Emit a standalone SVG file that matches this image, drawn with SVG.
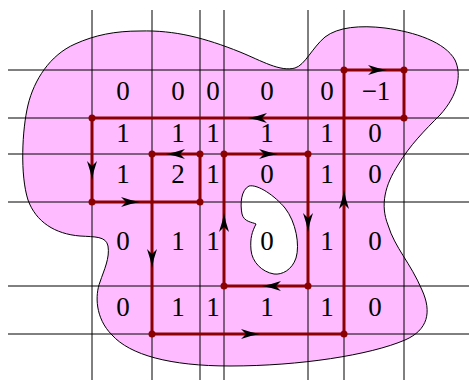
<svg xmlns="http://www.w3.org/2000/svg" xmlns:xlink="http://www.w3.org/1999/xlink" width="469" height="380" viewBox="0 0 469 380">
<style>
.blob{fill:#FFBBFF;stroke:#000;stroke-width:1}
.hole{fill:#fff;stroke:#000;stroke-width:1}
.grid line{stroke:#000;stroke-width:1}
.loop{fill:none;stroke:#8B0000;stroke-width:3;stroke-linejoin:miter}
.dot{fill:#8B0000}
.ah{fill:#000}
text{font-family:"Liberation Serif","Times New Roman",serif;font-size:27px;text-anchor:middle;fill:#000}
</style>
<defs>
<path id="ah" class="ah" d="M0,0 Q-9,-1.5 -19,-5 L-14,0 L-19,5 Q-9,1.5 0,0 Z"/>
</defs>
<g id="region">
<path class="blob" d="M140,31 C175,30 205,38 240,52 C262,61 280,72 295,68 C305,65 312,48 325,37 C338,27 360,25 385,28 C415,32 445,42 455,60 C462,75 458,95 440,115 C425,130 410,145 398,165 C385,185 380,205 388,225 C395,248 410,262 422,290 C432,312 428,330 405,340 C370,355 300,366 230,366 C170,366 130,355 112,335 C95,318 95,295 100,282 C104,270 110,258 108,246 C106,236 95,237 80,236 C55,234 36,222 28,200 C20,175 22,130 28,105 C34,80 50,55 75,44 C95,35 115,31 140,31 Z"/>
<path class="hole" d="M249,186 C258,184 275,196 285,208 C296,222 300,245 296,258 C292,270 282,275 274,274 C262,272 252,262 251,250 C250,238 252,232 256,224 C252,222 244,222 242,214 C240,204 241,190 249,186 Z"/>
</g>
<g id="grid" class="grid">
<line x1="8" y1="70" x2="469" y2="70"/>
<line x1="8" y1="118" x2="469" y2="118"/>
<line x1="8" y1="154" x2="469" y2="154"/>
<line x1="8" y1="202" x2="469" y2="202"/>
<line x1="8" y1="286" x2="469" y2="286"/>
<line x1="8" y1="334" x2="469" y2="334"/>
<line x1="92" y1="10" x2="92" y2="380"/>
<line x1="152" y1="10" x2="152" y2="380"/>
<line x1="200" y1="10" x2="200" y2="380"/>
<line x1="224" y1="10" x2="224" y2="380"/>
<line x1="308" y1="10" x2="308" y2="380"/>
<line x1="344" y1="10" x2="344" y2="380"/>
<line x1="404" y1="10" x2="404" y2="380"/>
</g>
<g id="connectors">
<path class="loop" d="M344,70 H404 V118 H92 V202 H152 V334 H344 Z"/>
<path class="loop" d="M200,154 H152 V202 H200 Z"/>
<path class="loop" d="M224,154 H308 V286 H224 Z"/>
<g class="dots">
<circle class="dot" cx="344" cy="70" r="3.5"/>
<circle class="dot" cx="404" cy="70" r="3.5"/>
<circle class="dot" cx="404" cy="118" r="3.5"/>
<circle class="dot" cx="92" cy="118" r="3.5"/>
<circle class="dot" cx="92" cy="202" r="3.5"/>
<circle class="dot" cx="152" cy="154" r="3.5"/>
<circle class="dot" cx="200" cy="154" r="3.5"/>
<circle class="dot" cx="200" cy="202" r="3.5"/>
<circle class="dot" cx="224" cy="154" r="3.5"/>
<circle class="dot" cx="308" cy="154" r="3.5"/>
<circle class="dot" cx="308" cy="286" r="3.5"/>
<circle class="dot" cx="224" cy="286" r="3.5"/>
<circle class="dot" cx="152" cy="334" r="3.5"/>
<circle class="dot" cx="344" cy="334" r="3.5"/>
</g>
<g class="arrows">
<use xlink:href="#ah" transform="translate(387,70)"/>
<use xlink:href="#ah" transform="translate(248,118) rotate(180)"/>
<use xlink:href="#ah" transform="translate(92,180) rotate(90)"/>
<use xlink:href="#ah" transform="translate(140,202)"/>
<use xlink:href="#ah" transform="translate(166,154) rotate(180)"/>
<use xlink:href="#ah" transform="translate(152,268) rotate(90)"/>
<use xlink:href="#ah" transform="translate(278,154)"/>
<use xlink:href="#ah" transform="translate(308,232) rotate(90)"/>
<use xlink:href="#ah" transform="translate(262,286) rotate(180)"/>
<use xlink:href="#ah" transform="translate(224,213) rotate(-90)"/>
<use xlink:href="#ah" transform="translate(260,334)"/>
<use xlink:href="#ah" transform="translate(344,190) rotate(-90)"/>
</g>
</g>
<g id="labels">
<g id="row1">
<text x="123" y="100">0</text><text x="178" y="100">0</text><text x="213" y="100">0</text><text x="267" y="100">0</text><text x="327" y="100">0</text><text x="376" y="100">−1</text>
</g>
<g id="row2">
<text x="123" y="142">1</text><text x="178" y="142">1</text><text x="213" y="142">1</text><text x="267" y="142">1</text><text x="327" y="142">1</text><text x="375" y="142">0</text>
</g>
<g id="row3">
<text x="123" y="183">1</text><text x="178" y="183">2</text><text x="213" y="183">1</text><text x="267" y="183">0</text><text x="327" y="183">1</text><text x="375" y="183">0</text>
</g>
<g id="row4">
<text x="123" y="250">0</text><text x="178" y="250">1</text><text x="213" y="250">1</text><text x="267" y="250">0</text><text x="327" y="250">1</text><text x="375" y="250">0</text>
</g>
<g id="row5">
<text x="123" y="316">0</text><text x="178" y="316">1</text><text x="213" y="316">1</text><text x="267" y="316">1</text><text x="327" y="316">1</text><text x="375" y="316">0</text>
</g>
</g>
</svg>
